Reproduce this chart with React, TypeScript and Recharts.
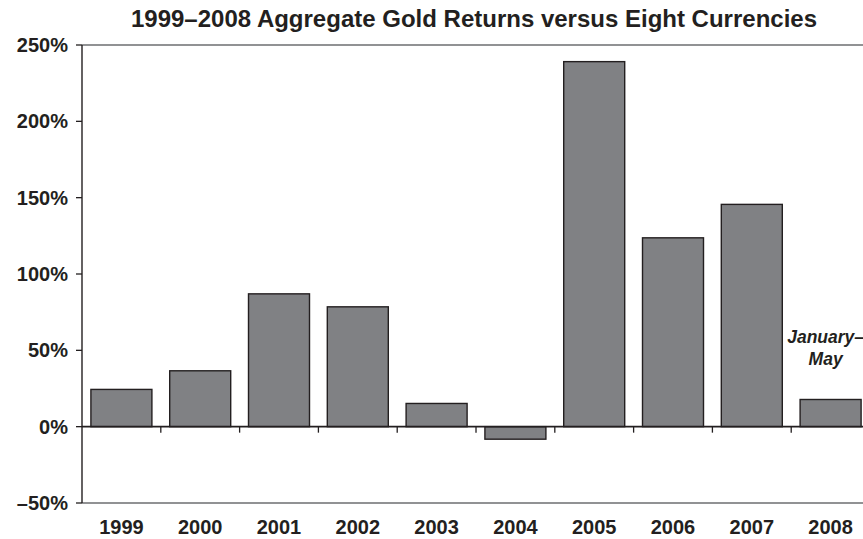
import React from "react";
import { BarChart, Bar, XAxis, YAxis, ReferenceLine, LabelList } from "recharts";

const years = ["1999", "2000", "2001", "2002", "2003", "2004", "2005", "2006", "2007", "2008"];
const returns = [24.4, 36.6, 87.0, 78.5, 15.2, -8.2, 239.1, 123.7, 145.6, 17.8];
const notes = ["", "", "", "", "", "", "", "", "", "January–\nMay"];
const yTicks = [-50, 0, 50, 100, 150, 200, 250];
const title = "1999–2008 Aggregate Gold Returns versus Eight Currencies";

const data = years.map((year, i) => ({ year, value: returns[i], note: notes[i] }));

const FONT = '"Liberation Sans", Arial, Helvetica, sans-serif';
const INK = "#231f20";
const GAP = 0.113;

const fmt = (v: number) => (v < 0 ? `–${Math.abs(v)}%` : `${v}%`);

const BarShape = (props: any) => {
  const { x, y, width, height, index, fill } = props;
  const ry = Math.min(y, y + height);
  const rh = Math.abs(height);
  const zeroY = y + height;
  const band = width / (1 - 2 * GAP);
  const bx = x + width + band * GAP;
  return (
    <g>
      <rect x={x} y={ry} width={width} height={rh} fill={fill} stroke={INK} strokeWidth={1.4} />
      {index < years.length - 1 && (
        <line x1={bx} x2={bx} y1={zeroY} y2={zeroY + 6} stroke={INK} strokeWidth={1.3} />
      )}
    </g>
  );
};

const NoteLabel = (props: any) => {
  const { x, y, width, value } = props;
  if (!value) return null;
  const lines = String(value).split("\n");
  const cx = x + width / 2 - 5;
  return (
    <text
      x={cx}
      y={y}
      textAnchor="middle"
      fill={INK}
      style={{ fontFamily: FONT, fontSize: 17.5, fontWeight: "bold", fontStyle: "italic" }}
    >
      {lines.map((l, i) => (
        <tspan key={i} x={cx} y={y - 56 + i * 22}>
          {l}
        </tspan>
      ))}
    </text>
  );
};

export default function App() {
  return (
    <div
      style={{
        position: "absolute",
        left: 0,
        top: 0,
        width: 863,
        height: 539,
        overflow: "hidden",
        background: "#fff",
      }}
    >
      <div
        style={{
          position: "absolute",
          left: 0,
          width: 948,
          top: 7,
          lineHeight: "24px",
          fontSize: 24,
          fontWeight: "bold",
          fontFamily: FONT,
          color: INK,
          textAlign: "center",
          whiteSpace: "nowrap",
        }}
      >
        {title}
      </div>
      <BarChart
        width={871}
        height={539}
        data={data}
        margin={{ top: 45, right: 1, left: 0, bottom: 0 }}
        barCategoryGap={`${GAP * 100}%`}
      >
        <ReferenceLine y={250} stroke="#6d6e71" strokeWidth={1.5} />
        <ReferenceLine y={-50} stroke="#6d6e71" strokeWidth={1.5} />
        <XAxis
          dataKey="year"
          axisLine={false}
          tickLine={false}
          tickSize={0}
          tickMargin={17}
          height={36}
          interval={0}
          tick={{ fill: INK, fontSize: 20, fontWeight: "bold", fontFamily: FONT }}
        />
        <YAxis
          domain={[-50, 250]}
          ticks={yTicks}
          type="number"
          width={82}
          tickFormatter={fmt}
          tickSize={6}
          tickMargin={8}
          axisLine={{ stroke: INK, strokeWidth: 1.4 }}
          tickLine={{ stroke: INK, strokeWidth: 1.3 }}
          tick={{ fill: INK, fontSize: 20, fontWeight: "bold", fontFamily: FONT }}
          allowDataOverflow
        />
        <Bar dataKey="value" fill="#808184" isAnimationActive={false} shape={<BarShape />}>
          <LabelList dataKey="note" content={<NoteLabel />} />
        </Bar>
        <ReferenceLine y={0} stroke={INK} strokeWidth={1.6} />
      </BarChart>
    </div>
  );
}
